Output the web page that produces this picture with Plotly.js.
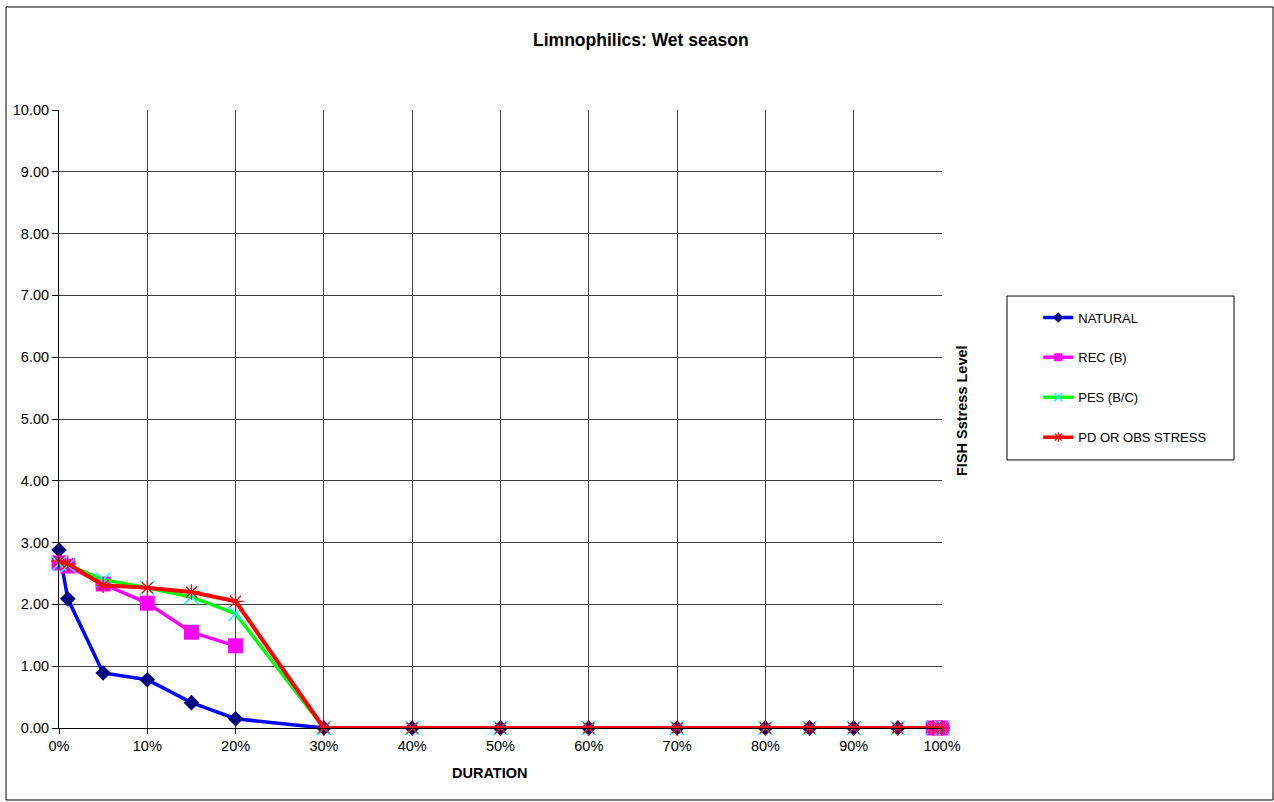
<!DOCTYPE html>
<html>
<head>
<meta charset="utf-8">
<script src="https://cdn.plot.ly/plotly-3.0.1.min.js"></script>
<style>html,body{margin:0;padding:0;background:#fff;}#chart{width:1274px;height:802px;}</style>
</head>
<body>
<div id="chart"></div>
<script>
// Duration (fraction of time)
var duration = [0, 0.01, 0.05, 0.10, 0.15, 0.20, 0.30, 0.40, 0.50, 0.60, 0.70, 0.80, 0.85, 0.90, 0.95, 0.99, 1.00];
var natural = [2.88, 2.09, 0.89, 0.78, 0.41, 0.15, 0, 0, 0, 0, 0, 0, 0, 0, 0, 0, 0];
var recB    = [2.67, 2.62, 2.33, 2.02, 1.55, 1.33, null, null, null, null, null, null, null, null, null, 0, 0];
var pesBC   = [2.66, 2.64, 2.40, 2.27, 2.12, 1.85, 0, 0, 0, 0, 0, 0, 0, 0, 0, 0, 0];
var pdObs   = [2.70, 2.66, 2.31, 2.27, 2.20, 2.05, 0, 0, 0, 0, 0, 0, 0, 0, 0, 0, 0];
var seriesNames = ["NATURAL", "REC (B)", "PES (B/C)", "PD OR OBS STRESS"];
var chartTitle = "Limnophilics: Wet season";
var xTitle = "DURATION";
var yTitle = "FISH Sstress Level";

var F = "Liberation Sans, Arial, sans-serif";
var styles = [
  {line: {color: "#0000FF", width: 3.5}, marker: {symbol: "diamond", size: 12, color: "#000080"}, lm: {symbol: "diamond", size: 8, color: "#000080"}},
  {line: {color: "#FF00FF", width: 3.5}, marker: {symbol: "square", size: 15, color: "#FF00FF"}, lm: {symbol: "square", size: 8, color: "#FF00FF"}},
  {line: {color: "#00FF00", width: 3.5}, marker: {symbol: "x-thin", size: 14, line: {color: "#00FFFF", width: 1.5}}, lm: {symbol: "x-thin", size: 8, line: {color: "#00FFFF", width: 1.5}}},
  {line: {color: "#FF0000", width: 4}, marker: {symbol: "asterisk-open", size: 13, line: {color: "#800080", width: 1.2}}, lm: {symbol: "asterisk-open", size: 8, line: {color: "#800080", width: 1.2}}}
];
var dataSeries = [natural, recB, pesBC, pdObs];
var traces = [];
dataSeries.forEach(function (ys, i) {
  traces.push({x: duration, y: ys, name: seriesNames[i], mode: "lines+markers", cliponaxis: false, showlegend: false,
               connectgaps: false, line: styles[i].line, marker: styles[i].marker});
});
// legend entries (no data points)
dataSeries.forEach(function (ys, i) {
  traces.push({x: [null], y: [null], name: seriesNames[i], mode: "lines+markers", showlegend: true, legendgroup: "g" + i,
               line: {color: styles[i].line.color, width: 3.5}, marker: styles[i].lm});
});

var layout = {
  width: 1274, height: 802,
  margin: {l: 59, r: 332, t: 110, b: 74},
  paper_bgcolor: "#fff", plot_bgcolor: "#fff",
  font: {family: F, size: 14, color: "#000"},
  title: {text: "<b>" + chartTitle + "</b>", font: {family: F, size: 17.5, color: "#000"}, xref: "container", x: 0.503, y: 0.95, yanchor: "middle"},
  showlegend: true,
  legend: {x: 1.109, xanchor: "left", y: 0.6885, yanchor: "top", bgcolor: "rgba(0,0,0,0)", borderwidth: 0,
           font: {family: F, size: 13, color: "#000"}, tracegroupgap: 20, traceorder: "grouped"},
  xaxis: {range: [0, 1], dtick: 0.1, tick0: 0, tickformat: ".0%", showgrid: true, gridcolor: "#404040", gridwidth: 1,
          zeroline: false, showline: true, linecolor: "#000", linewidth: 1, ticks: "outside", ticklen: 5, tickcolor: "#000",
          tickfont: {family: F, size: 14.5, color: "#000"}, fixedrange: true},
  yaxis: {range: [0, 10], dtick: 1, tick0: 0, tickformat: ".2f", showgrid: true, gridcolor: "#404040", gridwidth: 1,
          zeroline: false, showline: true, linecolor: "#000", linewidth: 1, ticks: "outside", ticklen: 6, tickcolor: "#000",
          tickfont: {family: F, size: 14.5, color: "#000"}, fixedrange: true},
  annotations: [
    {text: "<b>" + yTitle + "</b>", xref: "paper", yref: "paper", x: 1.0227, y: 0.513, textangle: -90,
     showarrow: false, font: {family: F, size: 14.5, color: "#000"}, xanchor: "center", yanchor: "middle"},
    {text: "<b>" + xTitle + "</b>", xref: "paper", yref: "paper", x: 0.488, y: -0.0728, showarrow: false,
     font: {family: F, size: 14.5, color: "#000"}, xanchor: "center", yanchor: "middle"}
  ],
  shapes: [
    {type: "rect", xref: "paper", yref: "paper", x0: -0.06, x1: 1.3749, y0: -0.1165, y1: 1.1667, line: {color: "#000", width: 1}, layer: "below"},
    {type: "rect", xref: "paper", yref: "paper", x0: 1.0736, x1: 1.3307, y0: 0.4337, y1: 0.699, line: {color: "#000", width: 1}, layer: "below"}
  ]
};

Plotly.newPlot("chart", traces, layout, {displayModeBar: false, staticPlot: true});
</script>
</body>
</html>
